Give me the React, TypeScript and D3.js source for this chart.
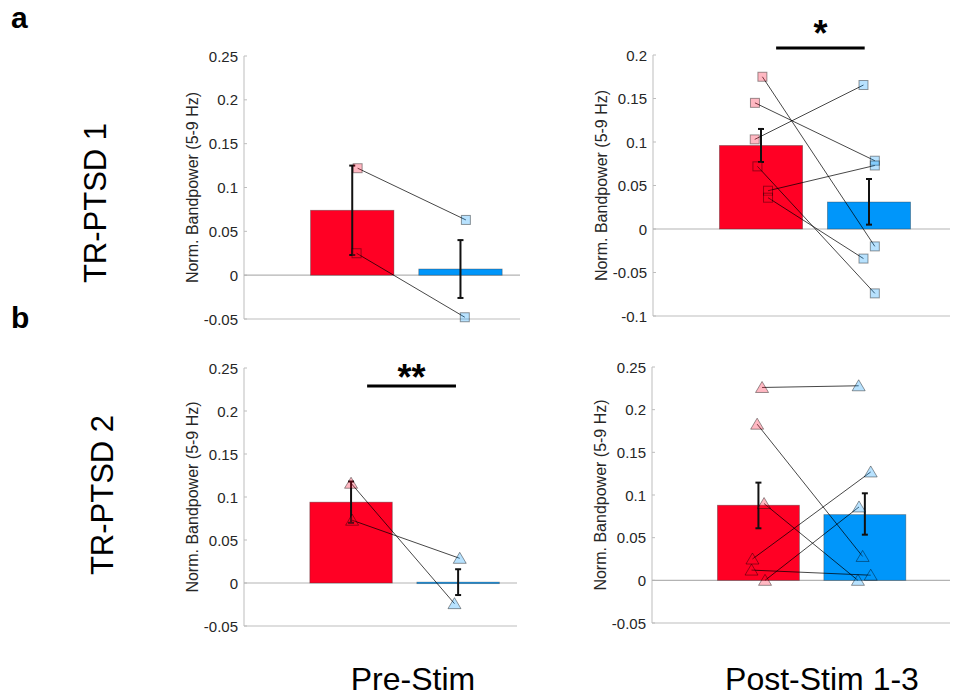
import React from "react";
import * as d3 from "d3";

// ---------- data ----------
const conditions = ["Pre-Stim", "Post-Stim 1-3"];
const patients = ["TR-PTSD 1", "TR-PTSD 2"];
const panelLetters = ["a", "b"];
const yLabel = "Norm. Bandpower (5-9 Hz)";

// tick labels
const ticksA = ["-0.05", "0", "0.05", "0.1", "0.15", "0.2", "0.25"];
const ticksB = ["-0.1", "-0.05", "0", "0.05", "0.1", "0.15", "0.2"];

// bar means [red, blue]
const meansP1Pre = [0.074, 0.007];
const meansP1Post = [0.096, 0.031];
const meansP2Pre = [0.094, 0.001];
const meansP2Post = [0.088, 0.077];

// error bars [low, high] for [red, blue]
const errP1Pre = [[0.023, 0.125], [-0.026, 0.040]];
const errP1Post = [[0.077, 0.115], [0.005, 0.0575]];
const errP2Pre = [[0.070, 0.118], [-0.014, 0.016]];
const errP2Post = [[0.061, 0.1145], [0.0535, 0.102]];

// individual sessions (paired): red value, blue value, red x, blue x
const redP1Pre = [0.122, 0.025];
const blueP1Pre = [0.063, -0.048];
const redXP1Pre = [1.05, 1.04];
const blueXP1Pre = [2.05, 2.04];

const redP1Post = [0.175, 0.145, 0.103, 0.072, 0.044, 0.036];
const blueP1Post = [-0.020, 0.0785, 0.1655, -0.074, 0.073, -0.034];
const redXP1Post = [1.013, 0.944, 0.942, 0.967, 1.065, 1.065];
const blueXP1Post = [2.054, 2.054, 1.949, 2.054, 2.054, 1.949];

const redP2Pre = [0.116, 0.073];
const blueP2Pre = [-0.024, 0.0287];
const redXP2Pre = [1.0, 1.01];
const blueXP2Pre = [1.966, 2.015];

const redP2Post = [0.226, 0.183, 0.090, 0.025, 0.012, 0.0];
const blueP2Post = [0.228, 0.028, 0.0, 0.127, 0.006, 0.086];
const redXP2Post = [1.034, 0.988, 1.053, 0.944, 0.935, 1.062];
const blueXP2Post = [1.942, 1.979, 1.935, 2.055, 2.055, 1.945];

// significance: [x1, x2, y, label]
const sigP1Post = { x: [1.14, 1.96], y: 0.208, label: "*" };
const sigP2Pre = { x: [1.15, 1.98], y: 0.229, label: "**" };

// ---------- styling ----------
const RED = "#ff0024";
const BLUE = "#0096fa";
const FONT = "'Liberation Sans', Arial, Helvetica, sans-serif";

type PanelDef = {
  left: number; right: number; top: number; bottom: number;
  yDomain: [number, number]; xDomain: [number, number];
  ticks: string[]; means: number[]; err: number[][];
  red: number[]; blue: number[]; redX: number[]; blueX: number[];
  marker: "square" | "triangle";
  sig?: { x: number[]; y: number; label: string };
  sigDy?: number;
};

const panels: PanelDef[] = [
  { left: 244, right: 520, top: 56, bottom: 319, yDomain: [-0.05, 0.25], xDomain: [0, 2.55],
    ticks: ticksA, means: meansP1Pre, err: errP1Pre, red: redP1Pre, blue: blueP1Pre,
    redX: redXP1Pre, blueX: blueXP1Pre, marker: "square" },
  { left: 653, right: 950, top: 55, bottom: 316, yDomain: [-0.1, 0.2], xDomain: [0, 2.75],
    ticks: ticksB, means: meansP1Post, err: errP1Post, red: redP1Post, blue: blueP1Post,
    redX: redXP1Post, blueX: blueXP1Post, marker: "square", sig: sigP1Post, sigDy: -2 },
  { left: 244, right: 517, top: 368, bottom: 626, yDomain: [-0.05, 0.25], xDomain: [0, 2.55],
    ticks: ticksA, means: meansP2Pre, err: errP2Pre, red: redP2Pre, blue: blueP2Pre,
    redX: redXP2Pre, blueX: blueXP2Pre, marker: "triangle", sig: sigP2Pre, sigDy: 4 },
  { left: 652, right: 950, top: 367, bottom: 623, yDomain: [-0.05, 0.25], xDomain: [0, 2.8],
    ticks: ticksA, means: meansP2Post, err: errP2Post, red: redP2Post, blue: blueP2Post,
    redX: redXP2Post, blueX: blueXP2Post, marker: "triangle" },
];

function Marker({ x, y, kind, color }: { x: number; y: number; kind: string; color: string }) {
  const common = {
    fill: color, fillOpacity: 0.28, stroke: "#000", strokeOpacity: 0.4, strokeWidth: 1,
  };
  if (kind === "square") {
    return <rect x={x - 4.5} y={y - 4.5} width={9} height={9} {...common} />;
  }
  const pts = `${x},${y - 6} ${x - 6.5},${y + 5} ${x + 6.5},${y + 5}`;
  return <polygon points={pts} {...common} />;
}

function Panel({ p }: { p: PanelDef }) {
  const x = d3.scaleLinear().domain(p.xDomain).range([p.left, p.right]);
  const y = d3.scaleLinear().domain(p.yDomain).range([p.bottom, p.top]);
  const barW = x(0.77) - x(0);
  const colors = [RED, BLUE];
  const cats = [1, 2];
  return (
    <g>
      {/* axes */}
      <line x1={p.left} x2={p.left} y1={p.top} y2={p.bottom} stroke="#bdbdbd" strokeWidth={1} />
      <line x1={p.left} x2={p.right} y1={p.bottom} y2={p.bottom} stroke="#bdbdbd" strokeWidth={1} />
      {p.ticks.map((t) => (
        <g key={t}>
          <line x1={p.left} x2={p.left + 3} y1={y(+t)} y2={y(+t)} stroke="#bdbdbd" />
          <text x={p.left - 6} y={y(+t)} textAnchor="end" dominantBaseline="central"
            fontSize={15} fill="#262626" fontFamily={FONT}>{t}</text>
        </g>
      ))}
      <text transform={`translate(${p.left - 46},${(p.top + p.bottom) / 2}) rotate(-90)`}
        textAnchor="middle" fontSize={16} fill="#262626" fontFamily={FONT}>{yLabel}</text>
      {/* zero line */}
      <line x1={p.left} x2={p.right} y1={y(0)} y2={y(0)} stroke="#b3b3b3" strokeWidth={1.2} />
      {/* bars */}
      {cats.map((c, i) => {
        const v = p.means[i];
        const y0 = y(Math.max(0, v));
        const h = Math.max(1.5, Math.abs(y(v) - y(0)));
        return (
          <rect key={c} x={x(c) - barW / 2} y={y0} width={barW} height={h}
            fill={colors[i]} stroke="#333" strokeOpacity={0.45} strokeWidth={0.8} />
        );
      })}
      {/* error bars */}
      {cats.map((c, i) => {
        const [lo, hi] = p.err[i];
        const cx = x(c);
        return (
          <g key={"e" + c} stroke="#111" strokeWidth={2}>
            <line x1={cx} x2={cx} y1={y(lo)} y2={y(hi)} />
            <line x1={cx - 3} x2={cx + 3} y1={y(lo)} y2={y(lo)} />
            <line x1={cx - 3} x2={cx + 3} y1={y(hi)} y2={y(hi)} />
          </g>
        );
      })}
      {/* paired lines */}
      {p.red.map((r, i) => (
        <line key={"l" + i} x1={x(p.redX[i])} y1={y(r)} x2={x(p.blueX[i])} y2={y(p.blue[i])}
          stroke="#000" strokeOpacity={0.72} strokeWidth={1} />
      ))}
      {p.red.map((r, i) => (
        <Marker key={"r" + i} x={x(p.redX[i])} y={y(r)} kind={p.marker} color={RED} />
      ))}
      {p.blue.map((b, i) => (
        <Marker key={"b" + i} x={x(p.blueX[i])} y={y(b)} kind={p.marker} color={BLUE} />
      ))}
      {p.sig && (
        <g>
          <line x1={x(p.sig.x[0])} x2={x(p.sig.x[1])} y1={y(p.sig.y)} y2={y(p.sig.y)}
            stroke="#000" strokeWidth={3} />
          <text x={(x(p.sig.x[0]) + x(p.sig.x[1])) / 2} y={y(p.sig.y) + (p.sigDy ?? 0)}
            textAnchor="middle" fontSize={36} fontWeight="bold" fontFamily={FONT}>{p.sig.label}</text>
        </g>
      )}
    </g>
  );
}

export default function App() {
  return (
    <svg width={956} height={696} style={{ position: "absolute", left: 0, top: 0, background: "#fff" }}>
      <rect x={0} y={0} width={956} height={696} fill="#fff" />
      {panels.map((p, i) => <Panel key={i} p={p} />)}
      <text x={11} y={28} fontSize={30} fontWeight="bold" fontFamily={FONT}>{panelLetters[0]}</text>
      <text x={11} y={328} fontSize={30} fontWeight="bold" fontFamily={FONT}>{panelLetters[1]}</text>
      <text transform="translate(106,203) rotate(-90)" textAnchor="middle" fontSize={31} fontFamily={FONT}>{patients[0]}</text>
      <text transform="translate(113,495) rotate(-90)" textAnchor="middle" fontSize={31} fontFamily={FONT}>{patients[1]}</text>
      <text x={413} y={690} textAnchor="middle" fontSize={32} fontFamily={FONT}>{conditions[0]}</text>
      <text x={822} y={690} textAnchor="middle" fontSize={32} fontFamily={FONT}>{conditions[1]}</text>
    </svg>
  );
}
